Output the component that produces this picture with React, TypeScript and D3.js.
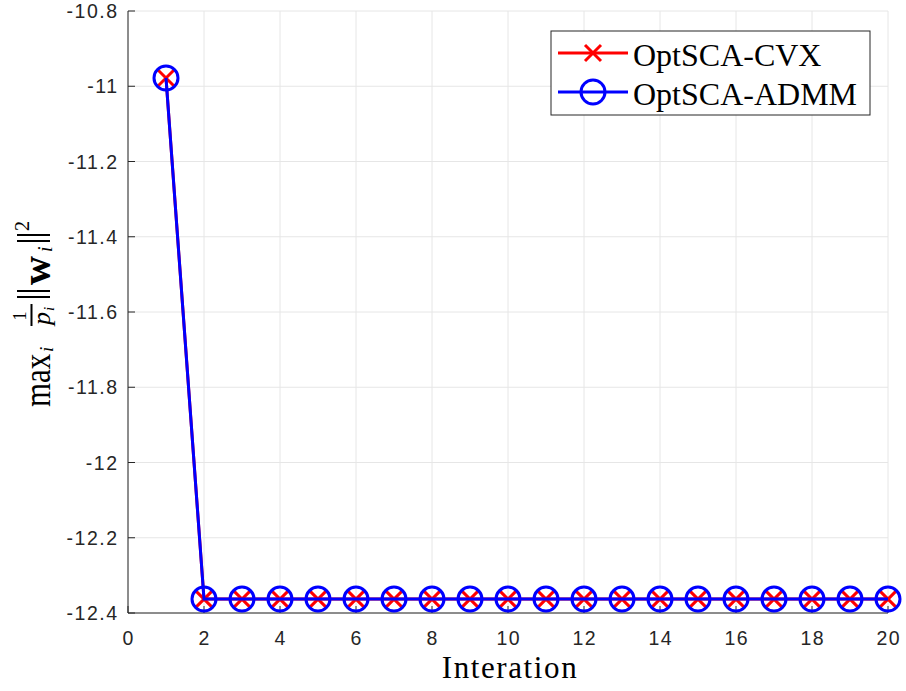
import React from 'react';
import * as d3 from 'd3';

const iterations = d3.range(1, 21);
const cvxValues = [-10.978, -12.363, -12.363, -12.363, -12.363, -12.363, -12.363, -12.363, -12.363, -12.363,
  -12.363, -12.363, -12.363, -12.363, -12.363, -12.363, -12.363, -12.363, -12.363, -12.363];
const admmValues = [-10.978, -12.363, -12.363, -12.363, -12.363, -12.363, -12.363, -12.363, -12.363, -12.363,
  -12.363, -12.363, -12.363, -12.363, -12.363, -12.363, -12.363, -12.363, -12.363, -12.363];
const xTicks = [0, 2, 4, 6, 8, 10, 12, 14, 16, 18, 20];
const yTicks = [-10.8, -11, -11.2, -11.4, -11.6, -11.8, -12, -12.2, -12.4];
const seriesNames = ['OptSCA-CVX', 'OptSCA-ADMM'];

const W = 906, H = 691;
const m = { left: 128, top: 11, right: 888, bottom: 613 };
const axisColor = '#262626';
const sans = '"Liberation Sans", Arial, sans-serif';
const serif = '"Liberation Serif", "Times New Roman", serif';

const cross = (cx: number, cy: number, s: number) =>
  `M${cx - s},${cy - s}L${cx + s},${cy + s}M${cx - s},${cy + s}L${cx + s},${cy - s}`;

export default function App() {
  const x = d3.scaleLinear().domain([0, 20]).range([m.left, m.right]);
  const y = d3.scaleLinear().domain([-12.4, -10.8]).range([m.bottom, m.top]);
  const line = d3.line<number>().x((_, i) => x(iterations[i])).y(d => y(d));
  const xs = 8;

  return (
    <svg width={W} height={H} style={{ position: 'absolute', left: 0, top: 0, background: '#fff' }}>
      {/* grid */}
      {xTicks.map(t => (
        <line key={'gx' + t} x1={x(t)} x2={x(t)} y1={m.top} y2={m.bottom} stroke="#e6e6e6" strokeWidth={1} />
      ))}
      {yTicks.map(t => (
        <line key={'gy' + t} x1={m.left} x2={m.right} y1={y(t)} y2={y(t)} stroke="#e6e6e6" strokeWidth={1} />
      ))}

      {/* axes */}
      <line x1={m.left} x2={m.left} y1={m.top} y2={m.bottom} stroke={axisColor} strokeWidth={1} />
      <line x1={m.left} x2={m.right} y1={m.bottom} y2={m.bottom} stroke={axisColor} strokeWidth={1} />
      {xTicks.map(t => (
        <g key={'tx' + t}>
          <line x1={x(t)} x2={x(t)} y1={m.bottom} y2={m.bottom - 7} stroke={axisColor} />
          <text x={x(t) + 0.75} y={m.bottom + 32} textAnchor="middle" fontFamily={sans} fontSize={19.5}
            letterSpacing={1.5} fill={axisColor}>{t}</text>
        </g>
      ))}
      {yTicks.map(t => (
        <g key={'ty' + t}>
          <line x1={m.left} x2={m.left + 7} y1={y(t)} y2={y(t)} stroke={axisColor} />
          <text x={m.left - 9.5} y={y(t) + 7} textAnchor="end" fontFamily={sans} fontSize={19.5}
            letterSpacing={1.5} fill={axisColor}>{t}</text>
        </g>
      ))}

      {/* series */}
      <path d={line(cvxValues) || ''} fill="none" stroke="#ff0000" strokeWidth={3} />
      {cvxValues.map((v, i) => (
        <path key={'c' + i} d={cross(x(iterations[i]), y(v), xs)} stroke="#ff0000" strokeWidth={3} fill="none" />
      ))}
      <path d={line(admmValues) || ''} fill="none" stroke="#0000ff" strokeWidth={3} />
      {admmValues.map((v, i) => (
        <circle key={'a' + i} cx={x(iterations[i])} cy={y(v)} r={12} fill="none" stroke="#0000ff" strokeWidth={3} />
      ))}

      {/* legend */}
      <g>
        <rect x={551} y={31} width={319} height={84} fill="#fff" stroke={axisColor} strokeWidth={1} />
        <line x1={558} x2={628} y1={53} y2={53} stroke="#ff0000" strokeWidth={3} />
        <path d={cross(593, 53, xs)} stroke="#ff0000" strokeWidth={3} />
        <text x={633} y={66} fontFamily={serif} fontSize={32} fill="#000">{seriesNames[0]}</text>
        <line x1={558} x2={628} y1={92} y2={92} stroke="#0000ff" strokeWidth={3} />
        <circle cx={593} cy={92} r={12} fill="#fff" stroke="#0000ff" strokeWidth={3} />
        <line x1={581} x2={605} y1={92} y2={92} stroke="#0000ff" strokeWidth={3} />
        <text x={633} y={105} fontFamily={serif} fontSize={32} fill="#000">{seriesNames[1]}</text>
      </g>

      {/* x label */}
      <text x={510} y={678} textAnchor="middle" fontFamily={serif} fontSize={31} letterSpacing={1.6} fill="#000">Interation</text>

      {/* y label: max_i (1/p_i) ||w_i||^2 */}
      <g transform="translate(50,407) rotate(-90)" fontFamily={serif} fill="#000">
        <text x={0} y={0} fontSize={31} transform="scale(1,1.2)">max</text>
        <text x={55} y={3} fontSize={19} fontStyle="italic">i</text>
        <text x={91} y={-24} fontSize={18} textAnchor="middle">1</text>
        <line x1={81} x2={103} y1={-18.5} y2={-18.5} stroke="#000" strokeWidth={2} />
        <text x={82} y={0} fontSize={26} fontStyle="italic">p</text>
        <text x={96} y={4} fontSize={15} fontStyle="italic">i</text>
        <line x1={110} x2={110} y1={-33} y2={0} stroke="#000" strokeWidth={1.8} />
        <line x1={116} x2={116} y1={-33} y2={0} stroke="#000" strokeWidth={1.8} />
        <text x={122} y={0} fontSize={40} fontWeight="bold">w</text>
        <text x={155} y={2} fontSize={20} fontStyle="italic">i</text>
        <line x1={166} x2={166} y1={-33} y2={0} stroke="#000" strokeWidth={1.8} />
        <line x1={172} x2={172} y1={-33} y2={0} stroke="#000" strokeWidth={1.8} />
        <text x={176} y={-21} fontSize={20}>2</text>
      </g>
    </svg>
  );
}
